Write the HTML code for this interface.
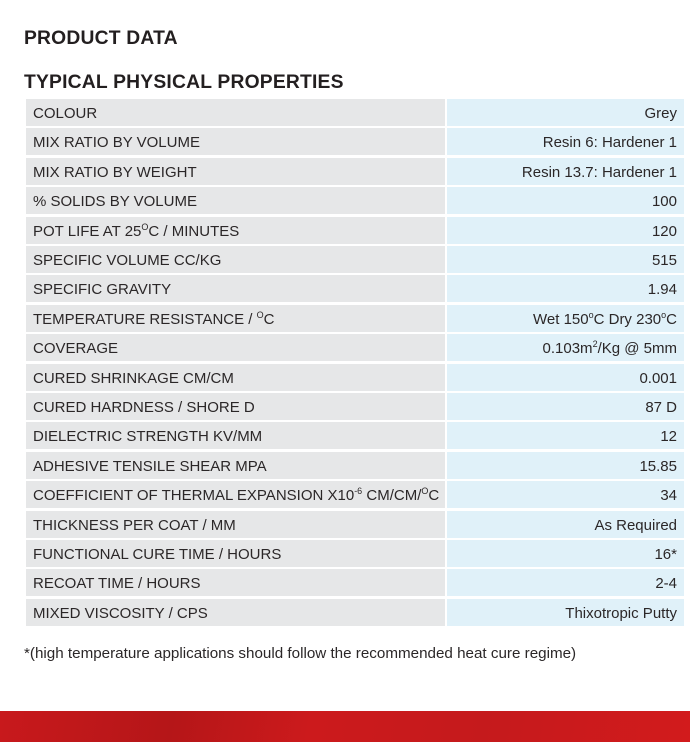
<!DOCTYPE html>
<html><head><style>
body{margin:0;width:690px;height:742px;background:#fff;position:relative;overflow:hidden;font-family:"Liberation Sans",sans-serif;color:#231f20}
h1{position:absolute;left:24px;margin:0;font-size:19.3px;font-weight:bold;letter-spacing:0.2px}
.r{position:absolute;left:26px;width:658px;height:27px;font-size:15px;line-height:30px;color:#2b2728}
.a{position:absolute;left:0;width:419px;height:27px;background:#e6e7e8;padding-left:7px;box-sizing:border-box}
.b{position:absolute;left:421px;width:237px;height:27px;background:#e0f1f9;text-align:right;padding-right:7px;box-sizing:border-box}
sup{font-size:9px;line-height:0}
.f{position:absolute;left:24px;top:645px;font-size:15.2px;color:#2b2728}
.red{position:absolute;left:0;top:711px;width:690px;height:31px;background:linear-gradient(100deg,#c8191c 0%,#b51618 25%,#cc1a1c 45%,#c51a1c 70%,#d21b1c 100%)}
</style></head><body>
<h1 style="top:28px">PRODUCT DATA</h1>
<h1 style="top:72px">TYPICAL PHYSICAL PROPERTIES</h1>
<div class="r" style="top:99px"><div class="a">COLOUR</div><div class="b">Grey</div></div>
<div class="r" style="top:128.4px"><div class="a">MIX RATIO BY VOLUME</div><div class="b">Resin 6: Hardener 1</div></div>
<div class="r" style="top:157.8px"><div class="a">MIX RATIO BY WEIGHT</div><div class="b">Resin 13.7: Hardener 1</div></div>
<div class="r" style="top:187.2px"><div class="a">% SOLIDS BY VOLUME</div><div class="b">100</div></div>
<div class="r" style="top:216.6px"><div class="a">POT LIFE AT 25<sup>O</sup>C / MINUTES</div><div class="b">120</div></div>
<div class="r" style="top:246px"><div class="a">SPECIFIC VOLUME CC/KG</div><div class="b">515</div></div>
<div class="r" style="top:275.4px"><div class="a">SPECIFIC GRAVITY</div><div class="b">1.94</div></div>
<div class="r" style="top:304.8px"><div class="a">TEMPERATURE RESISTANCE / <sup>O</sup>C</div><div class="b">Wet 150<sup>o</sup>C Dry 230<sup>o</sup>C</div></div>
<div class="r" style="top:334.2px"><div class="a">COVERAGE</div><div class="b">0.103m<sup>2</sup>/Kg @ 5mm</div></div>
<div class="r" style="top:363.6px"><div class="a">CURED SHRINKAGE CM/CM</div><div class="b">0.001</div></div>
<div class="r" style="top:393px"><div class="a">CURED HARDNESS / SHORE D</div><div class="b">87 D</div></div>
<div class="r" style="top:422.4px"><div class="a">DIELECTRIC STRENGTH KV/MM</div><div class="b">12</div></div>
<div class="r" style="top:451.8px"><div class="a">ADHESIVE TENSILE SHEAR MPA</div><div class="b">15.85</div></div>
<div class="r" style="top:481.2px"><div class="a">COEFFICIENT OF THERMAL EXPANSION X10<sup>-6</sup> CM/CM/<sup>O</sup>C</div><div class="b">34</div></div>
<div class="r" style="top:510.6px"><div class="a">THICKNESS PER COAT / MM</div><div class="b">As Required</div></div>
<div class="r" style="top:540px"><div class="a">FUNCTIONAL CURE TIME / HOURS</div><div class="b">16*</div></div>
<div class="r" style="top:569.4px"><div class="a">RECOAT TIME / HOURS</div><div class="b">2-4</div></div>
<div class="r" style="top:598.8px"><div class="a">MIXED VISCOSITY / CPS</div><div class="b">Thixotropic Putty</div></div>
<div class="f">*(high temperature applications should follow the recommended heat cure regime)</div>
<div class="red"></div>
</body></html>
